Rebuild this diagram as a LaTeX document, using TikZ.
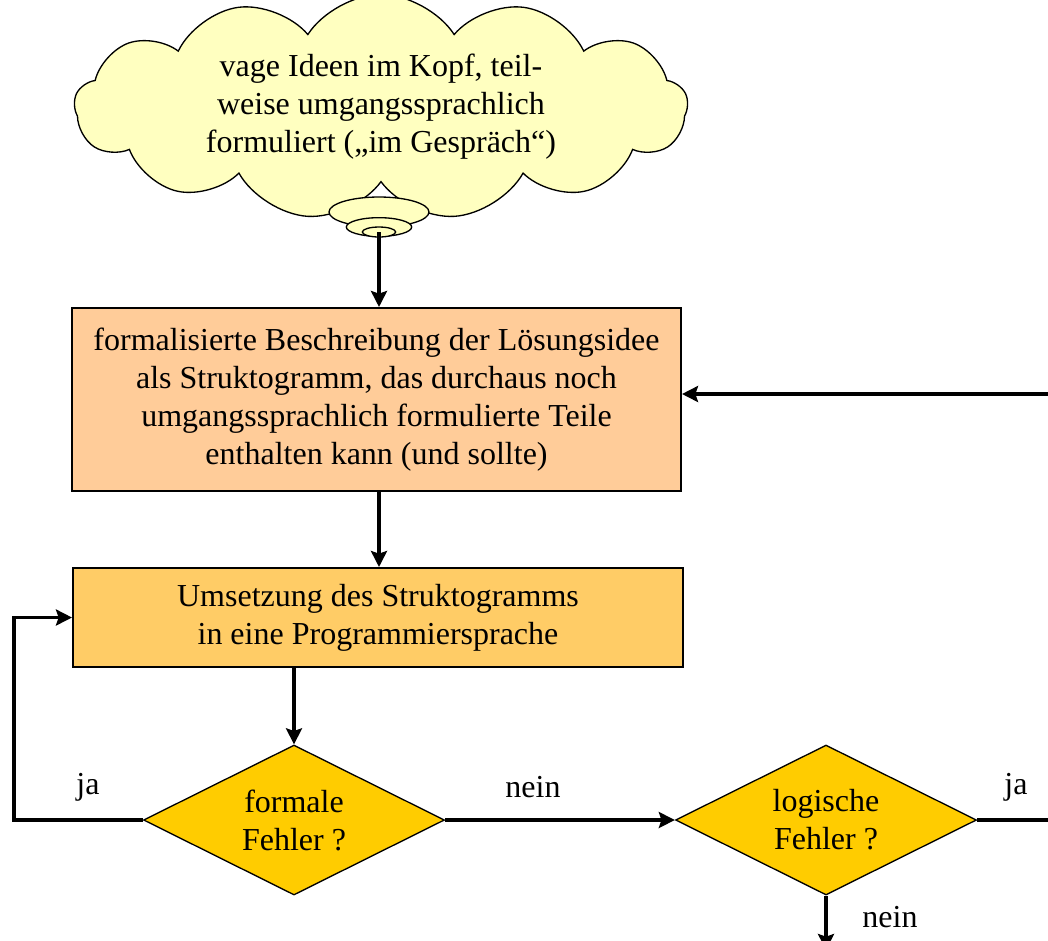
\documentclass[tikz,border=0pt]{standalone}
\usepackage{fontspec}
\setmainfont{Liberation Serif}
\usetikzlibrary{shapes.geometric,shapes.symbols,arrows.meta,positioning}
\definecolor{wolke}{RGB}{255,255,192}
\definecolor{pfirsich}{RGB}{255,204,153}
\definecolor{hellorange}{RGB}{255,204,102}
\definecolor{gelb}{RGB}{255,204,0}

\begin{document}
\begin{tikzpicture}[x=0.75pt,y=-0.75pt,font=\fontsize{24}{28.5}\selectfont,
    box/.style={draw,line width=1.5pt,align=center,inner sep=0pt},
    frage/.style={diamond,aspect=2,draw,fill=gelb,line width=1pt,align=center,inner sep=0pt,
      minimum width=225.75pt,minimum height=112.5pt},
    blase/.style={ellipse,draw,fill=wolke,line width=1pt,inner sep=0pt},
    linie/.style={line width=2.6pt},
    pfeil/.style={linie,-{Stealth[length=12pt,width=12pt,inset=2pt]}}]
    \useasboundingbox (0,0) rectangle (1048,940);
    \node[cloud,cloud puffs=13,cloud puff arc=115,aspect=3,draw,fill=wolke,line width=1pt,
      minimum width=460pt,minimum height=154pt,align=center,inner sep=0pt] (idee) at (381,107)
      {vage Ideen im Kopf, teil-\\weise umgangssprachlich\\formuliert („im Gespräch“)};
    \node[blase,minimum width=75pt,minimum height=22.5pt] (blase1) at (379,212) {};
    \node[blase,minimum width=49pt,minimum height=14pt] (blase2) at (379,227) {};
    \node[blase,minimum width=25pt,minimum height=7.5pt] (blase3) at (379,232) {};
    \node[box,fill=pfirsich,minimum width=456.75pt,minimum height=137.25pt] (beschreibung) at (376.5,399.5)
      {formalisierte Beschreibung der Lösungsidee\\als Struktogramm, das durchaus noch\\umgangssprachlich formulierte Teile\\enthalten kann (und sollte)};
    \node[box,fill=hellorange,minimum width=457.5pt,minimum height=74.25pt] (umsetzung) at (378,617.5)
      {Umsetzung des Struktogramms\\in eine Programmiersprache};
    \node[frage] (formal) at (294,820) {formale\\Fehler ?};
    \node[frage] (logisch) at (826,820) {logische\\Fehler ?};
    \coordinate (links) at (14,820);
    \coordinate (rechts) at (1052,820);
    \coordinate (rueck) at (1052,394);
    \coordinate (unten) at (826,950);
    \node (ja1) at (88,787) {ja};
    \node (nein1) at (533,787) {nein};
    \node (ja2) at (1016,787) {ja};
    \node (nein2) at (890,917) {nein};
    % Verbindungen
    \draw[pfeil] (blase3.center) -- (blase3.center |- beschreibung.north);
    \draw[pfeil] (blase3.center |- beschreibung.south) -- (blase3.center |- umsetzung.north);
    \draw[pfeil] (formal.north |- umsetzung.south) -- (formal.north);
    \draw[pfeil] (formal.east) -- (logisch.west);
    \draw[pfeil] (formal.west) -- (links) |- (umsetzung.west);
    \draw[linie] (logisch.east) -- (rechts);
    \draw[pfeil] (rueck) -- (beschreibung.east |- rueck);
    \draw[pfeil] (logisch.south) -- (unten);
\end{tikzpicture}
\end{document}
